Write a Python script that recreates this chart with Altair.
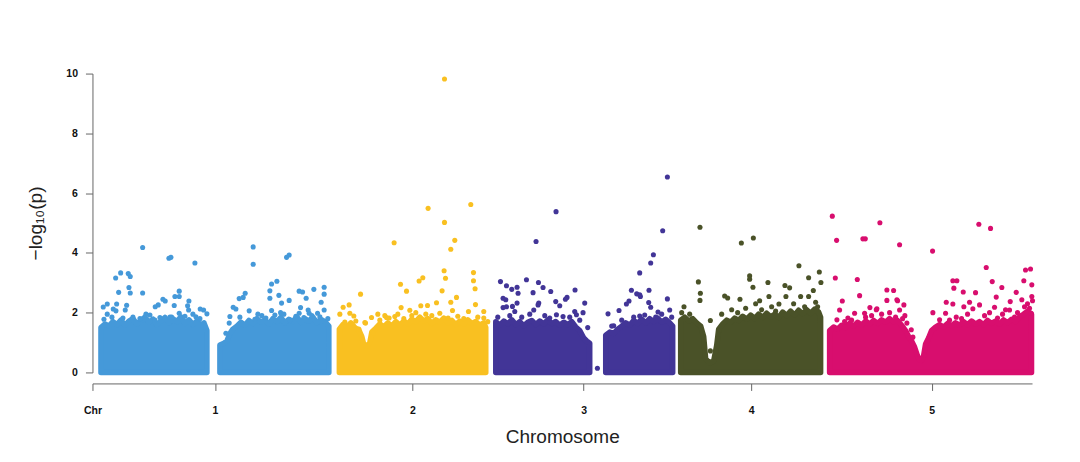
import altair as alt
import pandas as pd

# ---- chromosome colours ----
chrom_names = ["1", "2", "3", "4", "5"]
chrom_colors = ["#4599D9", "#F9C021", "#423597", "#4A5228", "#D80E6E"]

# ---- x axis ticks ----
tick_pos = [92.5, 215, 412.5, 584, 751.5, 932]
tick_lab = ["Chr", "1", "2", "3", "4", "5"]

# ---- dense body of SNPs (upper edge of the solid cloud), per segment ----
body_seg = {
    "1a": ("1", [101, 105, 109, 113, 117, 121, 125, 129, 133, 137, 141, 145, 149, 153, 157, 161, 165, 169, 173, 177,
                 181, 185, 189, 193, 197, 201, 204, 207],
                [1.50, 1.62, 1.55, 1.70, 1.60, 1.75, 1.58, 1.72, 1.80, 1.62, 1.74, 1.85, 1.68, 1.78, 1.60, 1.72, 1.84,
                 1.66, 1.80, 1.70, 1.86, 1.64, 1.76, 1.60, 1.72, 1.58, 1.66, 1.40]),
    "1b": ("1", [220, 224, 227, 230, 233, 237, 241, 245, 249, 253, 257, 261, 265, 269, 273, 277, 281, 285, 289, 293,
                 297, 301, 305, 309, 313, 317, 321, 325, 329],
                [0.92, 0.98, 1.05, 1.30, 1.45, 1.55, 1.68, 1.58, 1.74, 1.64, 1.80, 1.68, 1.76, 1.62, 1.80, 1.70, 1.84,
                 1.66, 1.78, 1.70, 1.86, 1.68, 1.80, 1.72, 1.85, 1.66, 1.78, 1.70, 1.55]),
    "2a": ("2", [339.5, 343, 347, 351, 355, 359, 362, 364, 367, 370, 372, 376, 380, 384, 388, 392, 396, 400, 404, 408,
                 412, 416, 420, 424, 428, 432, 436, 440, 444, 448, 452, 456, 460, 464, 468, 472, 476, 480, 484, 486],
                [1.45, 1.60, 1.52, 1.66, 1.50, 1.42, 1.20, 0.92, 0.88, 1.00, 1.35, 1.48, 1.62, 1.52, 1.66, 1.55, 1.70,
                 1.58, 1.72, 1.62, 1.78, 1.70, 1.85, 1.72, 1.80, 1.64, 1.76, 1.68, 1.82, 1.66, 1.74, 1.60, 1.72, 1.62,
                 1.76, 1.64, 1.70, 1.58, 1.66, 1.50]),
    "3a": ("3", [496, 500, 504, 508, 512, 516, 520, 524, 528, 532, 536, 540, 544, 548, 552, 556, 560, 564, 568, 572,
                 576, 580, 584, 587, 590],
                [1.70, 1.58, 1.72, 1.62, 1.76, 1.60, 1.70, 1.56, 1.68, 1.74, 1.60, 1.72, 1.62, 1.76, 1.64, 1.70, 1.58,
                 1.68, 1.60, 1.70, 1.52, 1.40, 1.15, 1.05, 0.98]),
    "3b": ("3", [606, 610, 614, 618, 622, 626, 630, 634, 638, 642, 646, 650, 654, 658, 662, 666, 670, 673],
                [1.25, 1.35, 1.30, 1.45, 1.55, 1.66, 1.58, 1.74, 1.64, 1.78, 1.66, 1.80, 1.70, 1.82, 1.68, 1.78, 1.66,
                 1.55]),
    "4a": ("4", [681, 685, 689, 693, 697, 701, 704, 706, 710, 714, 717, 719, 723, 727, 731, 735, 739, 743, 747, 751,
                 755, 759, 763, 767, 771, 775, 779, 783, 787, 791, 795, 799, 803, 807, 811, 815, 819, 821],
                [1.75, 1.85, 1.72, 1.80, 1.66, 1.55, 1.20, 0.45, 0.32, 0.38, 0.90, 1.45, 1.62, 1.75, 1.68, 1.82, 1.74,
                 1.88, 1.78, 1.92, 1.80, 1.95, 1.84, 1.98, 1.86, 1.95, 1.84, 2.02, 1.90, 2.05, 1.92, 2.08, 1.96, 2.10,
                 1.98, 2.12, 2.02, 1.85]),
    "5a": ("5", [830, 834, 838, 842, 846, 850, 854, 858, 862, 866, 870, 874, 878, 882, 886, 890, 894, 898, 902, 906,
                 909, 912, 915, 918, 920, 922, 924, 926, 929, 932, 936, 940, 944, 948, 952, 956, 960, 964, 968, 972,
                 976, 980, 984, 988, 992, 996, 1000, 1004, 1008, 1012, 1016, 1020, 1024, 1028, 1032],
                [1.40, 1.52, 1.45, 1.58, 1.50, 1.64, 1.55, 1.68, 1.58, 1.72, 1.62, 1.74, 1.64, 1.76, 1.68, 1.80, 1.70,
                 1.74, 1.58, 1.40, 1.20, 1.05, 0.85, 0.55, 0.42, 0.40, 0.55, 0.95, 1.15, 1.40, 1.52, 1.60, 1.52, 1.64,
                 1.56, 1.66, 1.58, 1.70, 1.60, 1.72, 1.62, 1.70, 1.60, 1.74, 1.64, 1.72, 1.62, 1.76, 1.66, 1.78, 1.70,
                 1.86, 1.95, 2.05, 1.95]),
}

# ---- individual SNPs standing out above the cloud ----
chr1_pos = [142.7, 169, 171, 195, 120.7, 115.7, 128.3, 130.3, 118.7, 129, 130.3, 142.7, 103.3, 107.3, 116.7, 113.3,
            107.3, 116, 126.7, 125.3, 163, 165.3, 175, 179.3, 179.3, 189, 187.7, 188.7, 203.7, 207, 158.3, 174.3,
            170, 179.3, 171.7, 200.3, 155.3,
            123, 133, 140, 150, 160, 185, 196, 200, 112, 104, 146, 155, 193,
            253.3, 253.3, 286.7, 289.3, 277, 271.7, 270, 279, 299.3, 302.7, 314, 324.3, 324.3, 245.3, 243.3, 239.3,
            281.7, 289.3, 306.3, 321.3, 270, 233.3, 236, 249.3, 271.7, 280.7, 300.7, 308.3, 324.3, 309.3, 299.3,
            317.7, 229.3, 226, 230, 255, 290,
            240, 262, 266, 284, 296, 312, 320, 328, 258, 275, 304]
chr1_logp = [4.18, 3.82, 3.85, 3.66, 3.33, 3.16, 3.31, 3.21, 2.68, 2.84, 2.66, 2.66, 2.19, 2.29, 2.29, 2.12,
             1.95, 2.06, 2.25, 2.09, 2.45, 2.39, 2.54, 2.72, 2.54, 2.39, 2.23, 2.09, 2.09, 1.96, 2.26, 2.24,
             1.85, 1.98, 1.85, 2.12, 2.20,
             1.82, 1.85, 1.80, 1.92, 1.84, 1.88, 1.86, 1.80, 1.85, 1.78, 1.95, 1.75, 1.95,
             4.20, 3.62, 3.85, 3.93, 3.05, 2.96, 2.73, 2.58, 2.72, 2.69, 2.78, 2.85, 2.62, 2.65, 2.51, 2.47,
             2.32, 2.41, 2.48, 2.35, 2.48, 2.18, 2.12, 2.06, 2.07, 2.00, 2.17, 2.09, 2.09, 1.98, 1.98,
             1.98, 1.65, 1.31, 1.87, 1.78, 1.76,
             1.85, 1.90, 1.82, 1.95, 1.88, 1.90, 1.86, 1.80, 1.95, 1.92, 1.84]

chr2_pos = [444.7, 428.3, 471, 444.7, 394.3, 455, 451, 444.3, 445.7, 473.7, 473.7, 475.3, 423, 419.3, 400.7, 406.7,
            442.3, 360.7, 456.7, 475.7, 451, 436.7, 427.7, 421, 401.3, 343.3, 349.3, 350, 354, 345, 365, 371.7,
            389.3, 395, 448.3, 452.7, 468.7, 484, 484, 359, 373.3, 365.7, 386.7,
            340, 356, 380, 385, 398, 404, 412, 416, 426, 432, 440, 458, 464, 478, 488, 410, 378]
chr2_logp = [9.82, 5.49, 5.62, 5.02, 4.34, 4.42, 4.12, 3.40, 3.15, 3.34, 3.07, 2.80, 3.17, 3.06, 2.95, 2.72,
             2.73, 2.62, 2.51, 2.27, 2.35, 2.33, 2.24, 2.23, 2.17, 2.18, 2.26, 1.98, 1.89, 1.69, 1.67, 1.84,
             1.82, 1.87, 1.82, 2.07, 2.04, 2.04, 1.82, 1.45, 1.31, 1.65, 1.84,
             1.95, 1.72, 1.75, 1.90, 1.95, 1.80, 1.90, 2.00, 1.95, 1.90, 1.98, 1.88, 1.80, 1.85, 1.70, 2.08, 1.95]

chr3_pos = [536.3, 556.3, 500.7, 506.7, 512, 517.3, 518.3, 526.7, 533.3, 538.7, 551, 556, 560, 567.3, 575.3, 506,
            512.7, 515, 503.3, 539, 534, 585, 575, 583.3, 543.3, 565.7, 503.3, 506.7, 517.3, 538.3, 556.7, 563.3, 576.7,
            498, 510, 522, 530, 545, 550, 570, 580, 588,
            597.7,
            667.7, 663, 653.7, 651, 640, 631.7, 637, 640.7, 649.3, 629.3, 626.7, 649, 651, 667.7, 670, 608.3,
            619.3, 658.3, 640, 640, 614,
            612, 622, 634, 645, 656, 662, 672]
chr3_logp = [4.38, 5.38, 3.04, 2.90, 2.78, 2.85, 2.65, 3.10, 2.67, 3.01, 2.71, 2.37, 2.23, 2.51, 2.76, 2.43,
             2.21, 2.04, 2.17, 2.32, 2.09, 2.32, 2.04, 2.00, 2.84, 2.45, 2.48, 2.20, 2.32, 2.26, 1.93, 1.87, 1.93,
             1.85, 1.90, 1.85, 1.95, 1.90, 1.82, 1.85, 1.75, 1.50,
             0.14,
             6.54, 4.74, 3.94, 3.66, 3.33, 2.75, 2.63, 2.54, 2.75, 2.39, 2.29, 2.34, 2.18, 2.46, 2.09, 1.96,
             2.07, 2.02, 1.89, 2.60, 1.56,
             1.55, 1.75, 1.85, 1.92, 1.85, 1.95, 1.85]

chr4_pos = [700.3, 741.7, 753.7, 799.3, 819.7, 809, 821.3, 750, 750, 698.7, 700.7, 700.3, 768.3, 785.3, 790, 786.3,
            813.7, 809, 753.3, 725, 728, 740.3, 779.3, 769.3, 684.3, 710.7, 710.7, 801,
            682, 690, 722, 732, 746, 756, 762, 772, 776, 794, 805, 816, 760, 738, 818]
chr4_logp = [4.86, 4.33, 4.50, 3.57, 3.36, 3.17, 3.01, 3.23, 3.12, 3.03, 2.65, 2.41, 3.01, 2.91, 2.83, 2.54,
             2.74, 2.54, 2.85, 2.56, 2.49, 2.45, 2.29, 2.54, 2.20, 1.74, 0.72, 2.54,
             2.00, 1.95, 1.95, 2.10, 2.15, 2.30, 2.10, 2.20, 2.05, 2.30, 2.20, 2.35, 2.40, 2.00, 2.20]

chr5_pos = [832.7, 837, 863.3, 865.7, 880.3, 900, 835.7, 857.7, 860, 842.7, 840, 837.3, 887.3, 894, 887.3, 897.3,
            904.3, 900, 870.3, 877.3, 855, 848.3, 907.3, 911.7, 913.3, 925, 898, 876.7, 905.3, 865,
            845, 852, 866, 872, 882, 890, 896, 903,
            933, 979.3, 991, 986.7, 992.7, 1026, 1031, 1024.3, 953.3, 957.3, 954.3, 963.7, 976, 1002.3, 1032.3, 1016.7,
            1032.3, 1022.3, 996.7, 1010.7, 946.7, 953.3, 964.3, 970, 973.3, 980, 995, 1010, 1030, 1031.7, 946, 956.7,
            940, 933.3,
            950, 962, 968, 985, 990, 1003, 1006, 1018, 1025, 1028, 1033, 1015, 998]
chr5_logp = [5.23, 4.42, 4.47, 4.47, 5.01, 4.27, 3.16, 3.11, 2.57, 2.39, 2.09, 1.76, 2.76, 2.74, 2.41, 2.43,
             2.26, 2.09, 2.17, 2.13, 1.98, 1.82, 1.65, 1.43, 1.18, 0.57, 2.40, 2.10, 1.90, 1.98,
             1.70, 1.75, 1.85, 1.90, 1.95, 2.00, 1.85, 1.80,
             4.06, 4.96, 4.82, 3.51, 3.04, 3.43, 3.46, 3.07, 3.07, 3.07, 2.82, 2.69, 2.67, 2.84, 2.93, 2.68,
             2.54, 2.43, 2.52, 2.37, 2.35, 2.29, 2.20, 2.35, 2.13, 2.26, 2.18, 2.09, 2.15, 1.98, 1.98, 1.85,
             1.76, 2.00,
             1.75, 1.80, 1.95, 1.90, 2.00, 1.95, 2.10, 2.00, 2.20, 2.30, 2.40, 1.85, 1.82]

# ---- build tables ----
rows = []
for seg, (chrom, xs, ys) in body_seg.items():
    for x, y in zip(xs, ys):
        rows.append({"seg": seg, "chrom": chrom, "pos": x, "top": y})
body_df = pd.DataFrame(rows)

pts = []
for chrom, xs, ys in [("1", chr1_pos, chr1_logp), ("2", chr2_pos, chr2_logp), ("3", chr3_pos, chr3_logp),
                      ("4", chr4_pos, chr4_logp), ("5", chr5_pos, chr5_logp)]:
    for x, y in zip(xs, ys):
        pts.append({"chrom": chrom, "pos": x, "logp": y})
pts_df = pd.DataFrame(pts)

label_expr = " : ".join(
    [f"datum.value == {p} ? '{l}'" for p, l in zip(tick_pos, tick_lab)]
) + " : ''"

cscale = alt.Scale(domain=chrom_names, range=chrom_colors)
xscale = alt.Scale(domain=[92.5, 1032.5], nice=False, zero=False)
yscale = alt.Scale(domain=[0, 10], nice=False)

x_axis = alt.Axis(values=tick_pos, labelExpr=label_expr, title="Chromosome", grid=False,
                  labelFont="Liberation Sans", labelFontWeight="bold", labelFontSize=10.5, labelColor="#111",
                  labelFlush=False, labelOverlap=False, labelPadding=15,
                  tickSize=7, tickColor="#666", domainColor="#666", offset=11,
                  titleFont="Liberation Sans", titleFontSize=19, titleFontWeight="normal", titleColor="#222",
                  titleBaseline="middle", titleY=53.5)
y_axis = alt.Axis(values=[0, 2, 4, 6, 8, 10], title="−log₁₀(p)", grid=False,
                  labelFont="Liberation Sans", labelFontWeight="bold", labelFontSize=10.5, labelColor="#111",
                  labelPadding=8, tickSize=7, tickColor="#666", domainColor="#666",
                  titleFont="Liberation Sans", titleFontSize=19, titleFontWeight="normal", titleColor="#222",
                  titleAngle=270, titleAlign="center", titleBaseline="middle", titleX=-57, titleY=149.5)

body = alt.Chart(body_df).mark_area(strokeWidth=5.5, strokeJoin="round", strokeCap="round", opacity=1).encode(
    x=alt.X("pos:Q", scale=xscale, axis=x_axis),
    y=alt.Y("top:Q", scale=yscale, axis=y_axis, stack=None),
    y2=alt.datum(0),
    fill=alt.Fill("chrom:N", scale=cscale, legend=None),
    stroke=alt.Stroke("chrom:N", scale=cscale, legend=None),
    detail="seg:N",
)

points = alt.Chart(pts_df).mark_circle(size=26, opacity=1).encode(
    x=alt.X("pos:Q", scale=xscale),
    y=alt.Y("logp:Q", scale=yscale),
    color=alt.Color("chrom:N", scale=cscale, legend=None),
)

chart = alt.layer(body, points).properties(
    width=940, height=299,
    autosize=alt.AutoSizeParams(type="none"),
    padding={"left": 84.5, "top": 65.5, "right": 40, "bottom": 85},
).configure_view(stroke=None)

chart.save("out.html", embed_options={"renderer": "svg", "actions": False})
